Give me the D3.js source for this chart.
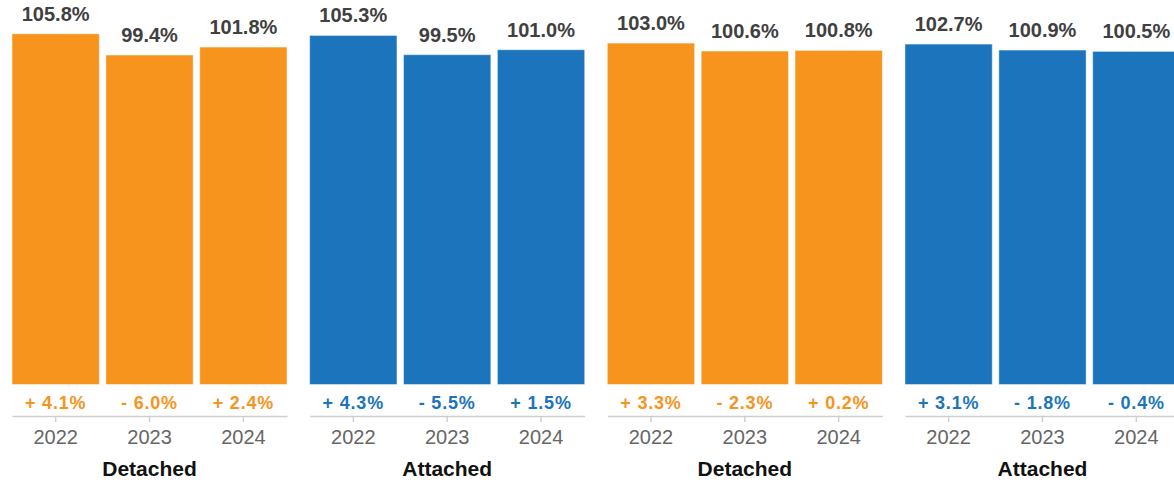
<!DOCTYPE html>
<html>
<head>
<meta charset="utf-8">
<script src="https://cdn.jsdelivr.net/npm/d3@7"></script>
<style>
  html, body { margin: 0; padding: 0; background: #fff; }
  svg { display: block; font-family: "Liberation Sans", Arial, Helvetica, sans-serif; }
</style>
</head>
<body>
<svg id="chart" width="1174" height="482"></svg>
<script>
// Dwelling price index by type, three years per panel
const groupLabels = ["Detached", "Attached", "Detached", "Attached"];
const groupColors = ["#f7941e", "#1c75bc", "#f7941e", "#1c75bc"];
const years = ["2022", "2023", "2024"];

const detachedA = [105.8, 99.4, 101.8];
const attachedA = [105.3, 99.5, 101.0];
const detachedB = [103.0, 100.6, 100.8];
const attachedB = [102.7, 100.9, 100.5];

const changeDetachedA = [4.1, -6.0, 2.4];
const changeAttachedA = [4.3, -5.5, 1.5];
const changeDetachedB = [3.3, -2.3, 0.2];
const changeAttachedB = [3.1, -1.8, -0.4];

const seriesValues = [detachedA, attachedA, detachedB, attachedB];
const seriesChanges = [changeDetachedA, changeAttachedA, changeDetachedB, changeAttachedB];

const svg = d3.select("#chart");
const baseY = 416;

const x0 = d3.scaleBand()
  .domain(d3.range(groupLabels.length))
  .range([12, 1180])
  .paddingInner(0.076);

const x1 = d3.scaleBand()
  .domain(years)
  .range([0, x0.bandwidth()])
  .paddingInner(0.07);

const y = d3.scaleLinear()
  .domain([0, 116])
  .range([384.5, 0]);

const fmtValue = v => v.toFixed(1) + "%";
const fmtChange = v => (v < 0 ? "- " : "+ ") + Math.abs(v).toFixed(1) + "%";

groupLabels.forEach((label, gi) => {
  const color = groupColors[gi];
  const rows = years.map((yr, i) => ({
    year: yr,
    value: seriesValues[gi][i],
    change: seriesChanges[gi][i]
  }));

  const g = svg.append("g")
    .attr("transform", `translate(${x0(gi)},0)`);

  // bars
  g.selectAll("rect.bar")
    .data(rows)
    .join("rect")
    .attr("class", "bar")
    .attr("x", d => x1(d.year))
    .attr("y", d => y(d.value))
    .attr("width", x1.bandwidth())
    .attr("height", d => y(0) - y(d.value))
    .attr("fill", color)
    .attr("stroke", "#fff")
    .attr("stroke-opacity", 0.45)
    .attr("stroke-width", 1);

  // value labels above bars
  g.selectAll("text.value")
    .data(rows)
    .join("text")
    .attr("class", "value")
    .attr("x", d => x1(d.year) + x1.bandwidth() / 2)
    .attr("y", d => y(d.value) - 13)
    .attr("text-anchor", "middle")
    .attr("font-size", 20)
    .attr("font-weight", "bold")
    .attr("fill", "#404040")
    .text(d => fmtValue(d.value));

  // year-over-year change beneath bars
  g.selectAll("text.change")
    .data(rows)
    .join("text")
    .attr("class", "change")
    .attr("x", d => x1(d.year) + x1.bandwidth() / 2)
    .attr("y", 409)
    .attr("text-anchor", "middle")
    .attr("font-size", 18)
    .attr("font-weight", "bold")
    .attr("letter-spacing", 0.8)
    .attr("fill", color)
    .text(d => fmtChange(d.change));

  // year axis
  const axis = g.append("g")
    .attr("transform", `translate(0,${baseY})`)
    .call(d3.axisBottom(x1).tickSize(6).tickSizeOuter(0));
  axis.select(".domain")
    .attr("stroke", "#cfcfcf")
    .attr("stroke-width", 1.5);
  axis.selectAll(".tick line")
    .attr("stroke", "#cfcfcf")
    .attr("stroke-width", 1.5);
  axis.selectAll(".tick text")
    .attr("y", 28)
    .attr("dy", 0)
    .attr("font-size", 20)
    .attr("font-family", "'Liberation Sans', Arial, sans-serif")
    .attr("fill", "#666");

  // panel title
  g.append("text")
    .attr("x", x0.bandwidth() / 2)
    .attr("y", 476)
    .attr("text-anchor", "middle")
    .attr("font-size", 21)
    .attr("font-weight", "bold")
    .attr("fill", "#111")
    .text(label);
});
</script>
</body>
</html>
